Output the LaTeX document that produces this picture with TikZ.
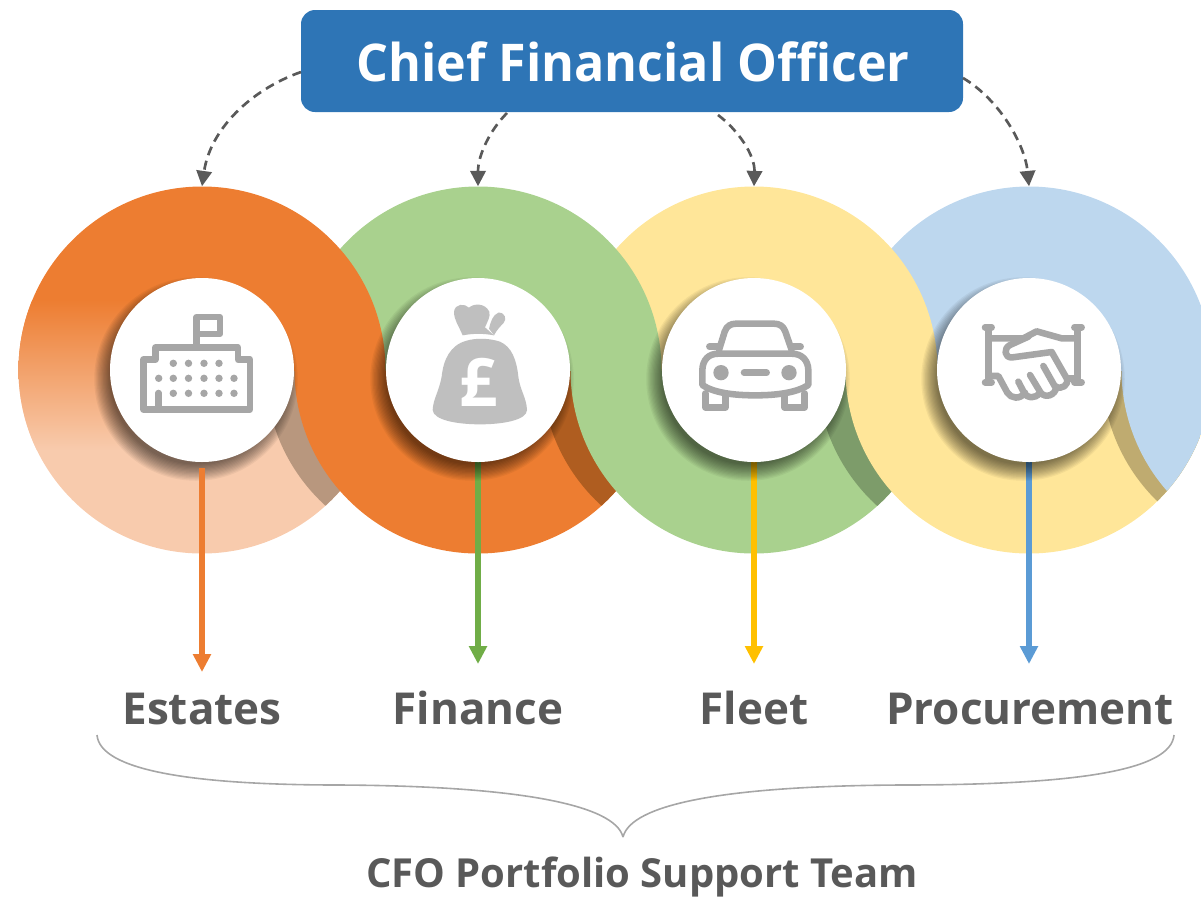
\documentclass[tikz,border=0pt]{standalone}
\usepackage{fontspec}
\setmainfont{Open Sans}
\newfontfamily\hdrfont{Open Sans}[FakeStretch=0.965]
\usetikzlibrary{arrows.meta,calc}
\definecolor{orng}{HTML}{ED7D31}
\definecolor{peach}{HTML}{F8CBAD}
\definecolor{grn}{HTML}{A9D18E}
\definecolor{ylw}{HTML}{FFE699}
\definecolor{blu}{HTML}{BDD7EE}
\definecolor{creA}{HTML}{B8977E}
\definecolor{creB}{HTML}{AF5D20}
\definecolor{creC}{HTML}{7D9C6A}
\definecolor{creD}{HTML}{BFAB70}
\definecolor{hdrblue}{HTML}{2E75B6}
\definecolor{txt}{HTML}{595959}
\definecolor{ico}{HTML}{A6A6A6}
\definecolor{bag}{HTML}{BFBFBF}
\definecolor{stemA}{HTML}{ED7D31}
\definecolor{stemB}{HTML}{70AD47}
\definecolor{stemC}{HTML}{FFC000}
\definecolor{stemD}{HTML}{5B9BD5}
\tikzset{
  whitedisc/.style={circle,fill=white,draw=none,minimum size=138pt,inner sep=0pt},
  ringnode/.style={circle,draw=none,minimum size=275.25pt,inner sep=0pt},
  headerbox/.style={rounded corners=10.5pt,fill=hdrblue,draw=none,minimum width=496.5pt,minimum height=76.5pt,inner sep=0pt},
  lbl/.style={text=txt,anchor=base,inner sep=0pt,font=\fontsize{33}{33}\selectfont\bfseries},
  dashlink/.style={draw=txt,line width=2pt,dash pattern=on 6.8pt off 4.4pt,-{Triangle[length=11.5pt,width=11.5pt]}},
  stem/.style={line width=4.9pt,-{Triangle[length=13.5pt,width=13pt]}},
  iconline/.style={draw=ico,line width=4.9pt,line cap=round,line join=round},
  bracel/.style={draw=ico,line width=1.2pt},
}
\newcommand{\softshadow}[1]{%
  \foreach \k in {0,...,13}{\fill[black,opacity=.047] (#1-6,379) circle [radius={85.5+\k*1.25}];}}
\begin{document}
\begin{tikzpicture}[x=.75pt,y=-.75pt]
\useasboundingbox (0,0) rectangle (1201,897);
\clip (0,0) rectangle (1201,897);
% lower half of the rings
\begin{scope}
\clip (0,370) rectangle (1201,700);
\fill[peach] (202,370) circle [radius=183.5];
\begin{scope}\clip (202,370) circle [radius=183.5]; \fill[creA] (449,370) circle [radius=183.5];\end{scope}
\fill[orng] (478,370) circle [radius=183.5];
\begin{scope}\clip (478,370) circle [radius=183.5]; \fill[creB] (725,370) circle [radius=183.5];\end{scope}
\fill[grn] (754,370) circle [radius=183.5];
\begin{scope}\clip (754,370) circle [radius=183.5]; \fill[creC] (1000.5,370) circle [radius=183.5];\end{scope}
\fill[ylw] (1029,370) circle [radius=183.5];
\begin{scope}\clip (1029,370) circle [radius=183.5]; \fill[creD] (1285.5,370) circle [radius=183.5];
\fill[blu] (1305,370) circle [radius=183.5];\end{scope}
\end{scope}
% upper half of the rings
\begin{scope}
\clip (0,0) rectangle (1201,370.5);
\fill[blu] (1029,370) circle [radius=183.5];
\fill[ylw] (754,370) circle [radius=183.5];
\fill[grn] (478,370) circle [radius=183.5];
\fill[orng] (202,370) circle [radius=183.5];
\end{scope}
% fade on the left of the first ring
\begin{scope}
\clip (202,370) circle [radius=183.5];
\shade[top color=orng,bottom color=peach] (0,300) rectangle (202,450);
\end{scope}
% ring placeholders for connectors
\node[ringnode] (ring1) at (202,370) {};
\node[ringnode] (ring2) at (478,370) {};
\node[ringnode] (ring3) at (754,370) {};
\node[ringnode] (ring4) at (1029,370) {};
% stems beneath the shadows
\coordinate (tip2) at (478,664);
\coordinate (tip3) at (754,664);
\coordinate (tip4) at (1029,664);
\draw[stem,stemB] (ring2.center) -- (tip2);
\draw[stem,stemC] (ring3.center) -- (tip3);
\draw[stem,stemD] (ring4.center) -- (tip4);
% shadows and white discs
\softshadow{202}\softshadow{478}\softshadow{754}\softshadow{1029}
\node[whitedisc] (disc1) at (202,370) {};
\node[whitedisc] (disc2) at (478,370) {};
\node[whitedisc] (disc3) at (754,370) {};
\node[whitedisc] (disc4) at (1029,370) {};
\coordinate (start1) at (202,468);
\coordinate (tip1) at (202,672);
\draw[stem,stemA] (start1) -- (tip1);
% building icon
\draw[iconline,line cap=butt,line join=round]
  (143.5,409.5) -- (143.5,359.5) -- (155.5,359.5) -- (155.5,347.5) -- (238,347.5) -- (238,359.5) -- (250,359.5) -- (250,409.5) -- cycle;
\draw[iconline,line cap=round] (158.5,409) -- (158.5,393);
\draw[iconline,line width=4.6pt] (196.5,347) -- (196.5,317) -- (220,317) -- (220,334) -- (196.5,334);
\foreach \x in {173.3,188.5,204,219}{\fill[ico] (\x,363.3) circle [radius=3.7];}
\foreach \x in {158.7,173.3,188.5,204,219,234}{\fill[ico] (\x,378.3) circle [radius=3.7];}
\foreach \x in {173.3,188.5,204,219,234}{\fill[ico] (\x,393.3) circle [radius=3.7];}
% money bag icon
\begin{scope}[shift={(370,270)},x=.25pt,y=-.25pt]
\fill[bag] (290,212) .. controls (320,203) and (360,205) .. (390,215)
  .. controls (425,230) and (440,270) .. (445,320)
  .. controls (450,360) and (470,385) .. (471,420)
  .. controls (470,450) and (400,463) .. (330,463)
  .. controls (260,463) and (190,450) .. (188,420)
  .. controls (190,385) and (205,370) .. (215,320)
  .. controls (220,270) and (240,225) .. (290,212) -- cycle;
\fill[bag] (278,196) .. controls (265,165) and (252,150) .. (252,125)
  .. controls (255,100) and (285,100) .. (297,113)
  .. controls (310,100) and (345,98) .. (358,125)
  .. controls (362,140) and (352,155) .. (345,172)
  -- (372,196) .. controls (340,190) and (310,190) .. (278,196) -- cycle;
\fill[bag] (357,176) .. controls (362,155) and (368,135) .. (385,128)
  .. controls (405,126) and (412,148) .. (400,160)
  .. controls (390,170) and (380,180) .. (372,196) -- cycle;
\end{scope}
\node[text=white,inner sep=0pt,font=\fontsize{50}{50}\selectfont\bfseries] (pound) at (479,382) {£};
% car icon
\begin{scope}[shift={(650,270)},x=.25pt,y=-.25pt]
\draw[iconline] (207,240) -- (224,185) .. controls (230,168) and (242,161) .. (258,161) -- (372,161) .. controls (388,161) and (400,168) .. (406,185) -- (425,240);
\draw[iconline] (178,230) -- (205,230);
\draw[iconline] (430,230) -- (452,230);
\draw[iconline] (157,345) -- (157,300) .. controls (158,270) and (175,251) .. (205,251) -- (425,251) .. controls (455,251) and (474,270) .. (475,300) -- (475,345) .. controls (440,368) and (380,376) .. (316,376) .. controls (250,376) and (190,368) .. (157,345) -- cycle;
\draw[iconline] (166,370) -- (166,412) -- (226,412) -- (226,376);
\draw[iconline] (404,376) -- (404,412) -- (464,412) -- (464,370);
\fill[ico] (213,308) circle [radius=23];
\fill[ico] (417,308) circle [radius=23];
\draw[iconline] (282,308) -- (350,308);
\end{scope}
% handshake icon
\begin{scope}[shift={(920,270)},x=.25pt,y=-.25pt]
\draw[iconline] (205,172) -- (205,337);
\draw[iconline] (472,172) -- (472,337);
\draw[iconline] (195,172) -- (215,172);
\draw[iconline] (195,337) -- (215,337);
\draw[iconline] (463,172) -- (485,172);
\draw[iconline] (463,337) -- (485,337);
\draw[iconline] (205,205) -- (310,205) -- (350,184) -- (425,205) -- (472,205);
\draw[iconline] (472,325) -- (442,325);
\draw[iconline] (325,200) -- (270,225) .. controls (250,235) and (252,265) .. (278,262) -- (395,246) -- (440,325) .. controls (448,345) and (425,360) .. (405,350) -- (370,288);
\draw[iconline] (410,350) .. controls (405,378) and (375,385) .. (362,368) -- (330,315);
\draw[iconline] (360,368) .. controls (345,388) and (320,385) .. (312,368) -- (295,335);
\draw[iconline] (315,368) .. controls (300,390) and (272,385) .. (262,368) -- (235,318) -- (205,318);
\end{scope}
% header
\node[headerbox] (hdr) at (632,61) {};
\node[text=white,inner sep=0pt,anchor=base,font=\fontsize{39}{39}\hdrfont\bfseries] (hdrtext) at (633,81.5) {Chief Financial Officer};
\coordinate (from1) at (301,72);
\coordinate (from2) at (507,113);
\coordinate (from3) at (718,115);
\coordinate (from4) at (963,78);
\draw[dashlink] (from1) .. controls (250,90) and (210,130) .. (ring1.north);
\draw[dashlink] (from2) .. controls (490,130) and (478,155) .. (ring2.north);
\draw[dashlink] (from3) .. controls (738,130) and (755,155) .. (ring3.north);
\draw[dashlink] (from4) .. controls (1000,100) and (1025,145) .. (ring4.north);
% labels
\node[lbl] (estates) at (202,724) {Estates};
\node[lbl] (finance) at (478,724) {Finance};
\node[lbl] (fleet) at (754,724) {Fleet};
\node[lbl] (procurement) at (1030,724) {Procurement};
\node[lbl,font=\fontsize{30}{30}\selectfont\bfseries] (team) at (642,887.5) {CFO Portfolio Support Team};
% brace
\coordinate (braceL) at (97,735);
\coordinate (braceR) at (1174,735);
\coordinate (braceT) at (623,837);
\draw[bracel] (braceL) .. controls (100,770) and (190,785) .. (340,785) .. controls (520,786) and (615,805) .. (braceT);
\draw[bracel] (braceR) .. controls (1171,770) and (1080,785) .. (900,785) .. controls (720,786) and (631,805) .. (braceT);
\end{tikzpicture}
\end{document}
